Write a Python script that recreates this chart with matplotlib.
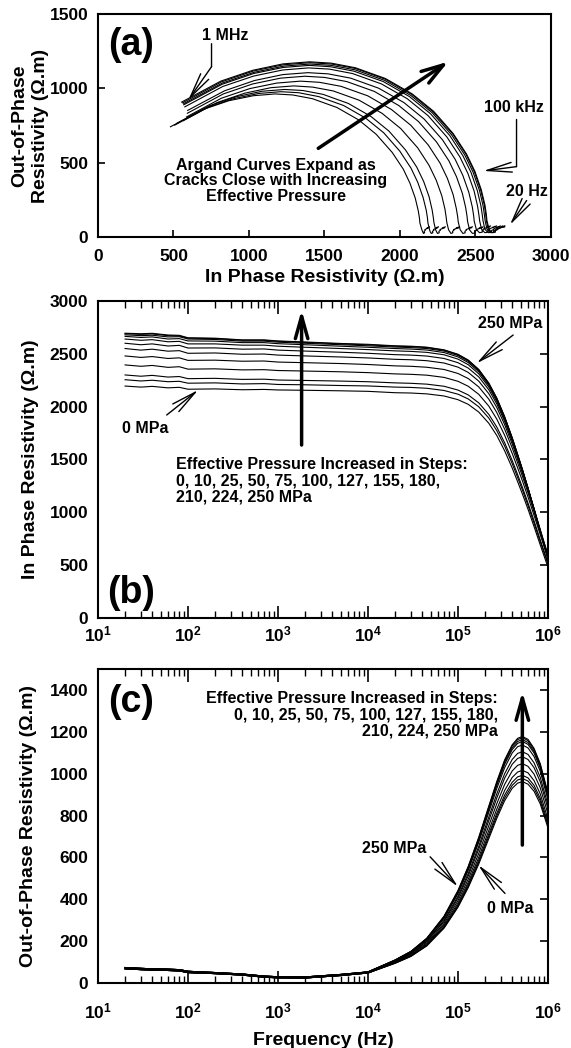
import matplotlib
matplotlib.use('Agg')
import matplotlib.pyplot as plt
from matplotlib.ticker import LogLocator, NullFormatter, FixedLocator

plt.rcParams['font.family'] = ['Liberation Sans', 'DejaVu Sans']
plt.rcParams['font.weight'] = 'bold'
plt.rcParams['axes.labelweight'] = 'bold'
plt.rcParams['mathtext.fontset'] = 'custom'
plt.rcParams['mathtext.rm'] = 'Liberation Sans:bold'
plt.rcParams['mathtext.bf'] = 'Liberation Sans:bold'

# frequencies (Hz) shared by every run
freq = [20, 30, 40, 60, 80, 100, 200, 400, 700, 1e3, 2e3, 5e3, 1e4,
        2e4, 3e4, 4.5e4, 7e4, 1e5, 1.3e5, 1.7e5, 2.2e5, 2.7e5, 3.3e5, 4e5, 4.6e5,
        5.2e5, 6e5, 7e5, 8.2e5, 1e6]

pressures = [0, 10, 25, 50, 75, 100, 127, 155, 180, 210, 224, 250]

# in phase resistivity (ohm.m), one list per effective pressure (MPa)
ip_000 = [2195, 2185, 2192, 2178, 2183, 2165, 2168, 2160, 2163, 2158, 2155, 2150, 2145,
          2132, 2129, 2121, 2101, 2066, 2022, 1949, 1843, 1727, 1582, 1420, 1290, 1173, 1029, 865, 692, 480]
ip_010 = [2255, 2243, 2250, 2236, 2240, 2222, 2225, 2215, 2218, 2210, 2207, 2200, 2196,
          2185, 2182, 2174, 2153, 2118, 2073, 1999, 1892, 1773, 1627, 1462, 1330, 1211, 1064, 898, 723, 508]
ip_025 = [2300, 2288, 2296, 2280, 2285, 2265, 2268, 2258, 2260, 2252, 2248, 2242, 2236,
          2225, 2221, 2213, 2193, 2157, 2111, 2036, 1927, 1807, 1658, 1491, 1357, 1236, 1087, 919, 740, 522]
ip_050 = [2395, 2382, 2390, 2372, 2378, 2355, 2358, 2348, 2350, 2342, 2337, 2330, 2322,
          2310, 2306, 2298, 2277, 2240, 2193, 2117, 2005, 1882, 1729, 1558, 1421, 1297, 1145, 972, 789, 565]
ip_075 = [2480, 2466, 2474, 2456, 2462, 2438, 2440, 2430, 2432, 2422, 2416, 2408, 2399,
          2386, 2382, 2373, 2352, 2314, 2266, 2187, 2071, 1944, 1787, 1610, 1468, 1341, 1184, 1006, 817, 586]
ip_100 = [2550, 2535, 2544, 2525, 2530, 2505, 2508, 2496, 2498, 2488, 2480, 2470, 2461,
          2448, 2444, 2435, 2413, 2374, 2324, 2242, 2123, 1992, 1830, 1648, 1501, 1370, 1208, 1024, 830, 592]
ip_127 = [2600, 2586, 2594, 2574, 2580, 2555, 2556, 2544, 2546, 2535, 2526, 2515, 2505,
          2492, 2488, 2479, 2456, 2416, 2365, 2282, 2160, 2026, 1860, 1674, 1524, 1390, 1224, 1036, 838, 594]
ip_155 = [2640, 2628, 2634, 2614, 2618, 2594, 2594, 2582, 2582, 2572, 2562, 2550, 2540,
          2528, 2523, 2514, 2491, 2450, 2397, 2311, 2186, 2048, 1878, 1686, 1532, 1394, 1223, 1030, 826, 575]
ip_180 = [2665, 2655, 2660, 2640, 2644, 2622, 2620, 2606, 2606, 2596, 2586, 2572, 2562,
          2550, 2545, 2536, 2512, 2471, 2417, 2330, 2203, 2063, 1890, 1695, 1539, 1399, 1226, 1030, 822, 568]
ip_210 = [2680, 2672, 2676, 2660, 2662, 2640, 2636, 2620, 2620, 2610, 2600, 2586, 2576,
          2564, 2559, 2550, 2526, 2484, 2430, 2342, 2214, 2073, 1899, 1703, 1545, 1404, 1230, 1032, 823, 567]
ip_224 = [2690, 2684, 2688, 2672, 2670, 2648, 2644, 2628, 2628, 2618, 2608, 2594, 2585,
          2572, 2568, 2559, 2534, 2492, 2438, 2350, 2220, 2079, 1903, 1705, 1547, 1404, 1228, 1029, 818, 560]
ip_250 = [2695, 2690, 2694, 2678, 2675, 2652, 2648, 2632, 2632, 2622, 2612, 2598, 2590,
          2576, 2572, 2563, 2538, 2496, 2441, 2352, 2223, 2080, 1903, 1705, 1545, 1402, 1225, 1025, 813, 554]

# out-of-phase resistivity: runs nearly overlap below 10 kHz
op_low_a = [68, 64, 62, 60, 58, 50, 45, 38, 28, 25, 24, 36, 48]
op_low_b = [74, 70, 68, 66, 64, 56, 50, 43, 33, 30, 29, 41, 53]
op_000 = op_low_a + [94, 127, 177, 262, 362, 456, 568, 690, 787, 871, 930, 955, 962, 950, 916, 856, 741]
op_010 = op_low_a + [95, 128, 180, 266, 367, 463, 577, 701, 799, 884, 944, 970, 977, 965, 930, 870, 752]
op_025 = op_low_a + [96, 130, 182, 270, 373, 470, 586, 712, 811, 898, 959, 985, 992, 980, 944, 883, 764]
op_050 = op_low_a + [98, 133, 187, 277, 382, 481, 600, 729, 831, 920, 982, 1008, 1016, 1004, 967, 904, 782]
op_075 = op_low_a + [100, 137, 192, 285, 394, 496, 619, 752, 857, 949, 1013, 1040, 1048, 1035, 998, 933, 807]
op_100 = op_low_a + [103, 140, 198, 294, 406, 512, 639, 776, 884, 979, 1045, 1073, 1081, 1068, 1029, 962, 832]
op_127 = op_low_b + [105, 143, 202, 300, 415, 523, 653, 793, 904, 1000, 1068, 1097, 1105, 1092, 1052, 983, 851]
op_155 = op_low_b + [107, 147, 207, 309, 427, 538, 672, 816, 930, 1029, 1099, 1129, 1137, 1123, 1082, 1012, 875]
op_180 = op_low_b + [109, 149, 210, 313, 433, 546, 682, 828, 944, 1045, 1115, 1145, 1154, 1140, 1099, 1027, 889]
op_210 = op_low_b + [109, 150, 212, 315, 436, 550, 687, 835, 951, 1053, 1124, 1154, 1163, 1149, 1107, 1035, 896]
op_224 = op_low_b + [110, 151, 213, 318, 440, 555, 692, 841, 958, 1061, 1133, 1163, 1172, 1158, 1116, 1043, 902]
op_250 = op_low_b + [110, 151, 214, 319, 442, 557, 696, 845, 963, 1066, 1138, 1169, 1178, 1164, 1121, 1048, 907]

in_phase = [ip_000, ip_010, ip_025, ip_050, ip_075, ip_100, ip_127, ip_155, ip_180, ip_210, ip_224, ip_250]
out_phase = [op_000, op_010, op_025, op_050, op_075, op_100, op_127, op_155, op_180, op_210, op_224, op_250]

steps_txt = 'Effective Pressure Increased in Steps:\n0, 10, 25, 50, 75, 100, 127, 155, 180,\n210, 224, 250 MPa'
unit = '(\u03A9.m)'
fs_note = 11.5


def arrow(ax, tip, tail, lw=1.0, hl=1.8, hw=0.35):
    ax.annotate('', xy=tip, xytext=tail,
                arrowprops=dict(arrowstyle=f'->,head_length={hl},head_width={hw}',
                                lw=lw, color='k', shrinkA=0, shrinkB=0), annotation_clip=False)


def leader(ax, p1, p2, lw=1.0):
    ax.annotate('', xy=p2, xytext=p1,
                arrowprops=dict(arrowstyle='-', lw=lw, color='k', shrinkA=0, shrinkB=0),
                annotation_clip=False)


def style(ax):
    for s in ax.spines.values():
        s.set_linewidth(1.5)
    ax.tick_params(labelsize=12.5, width=1.2)


fig = plt.figure(figsize=(5.71, 10.48), dpi=100)
ax_a = fig.add_axes([0.1716, 0.7739, 0.7933, 0.2128])
ax_b = fig.add_axes([0.1716, 0.4103, 0.7881, 0.3025])
ax_c = fig.add_axes([0.1716, 0.0620, 0.7881, 0.2996])

# ---- (a) Argand diagram
for x, y in zip(in_phase, out_phase):
    ax_a.plot(x, y, color='k', lw=0.8)
ax_a.set_xlim(0, 3000)
ax_a.set_ylim(0, 1500)
ax_a.set_xticks([0, 500, 1000, 1500, 2000, 2500, 3000])
ax_a.set_yticks([0, 500, 1000, 1500])
style(ax_a)
ax_a.tick_params(direction='in', length=5)
ax_a.tick_params(axis='x', pad=9)
ax_a.tick_params(axis='y', pad=7)
ax_a.set_xlabel('In Phase Resistivity ' + unit, fontsize=14, labelpad=3)
ax_a.set_ylabel('Out-of-Phase\nResistivity ' + unit, fontsize=14, linespacing=1.3)
ax_a.yaxis.set_label_coords(-0.108, 0.5)
ax_a.text(0.073, 0.86, '(a)', transform=ax_a.transAxes, fontsize=27, ha='center', va='center')

ax_a.text(841, 1358, '1 MHz', fontsize=fs_note, ha='center', va='center')
leader(ax_a, (752, 1300), (752, 1145))
arrow(ax_a, (598, 921), (752, 1145))
ax_a.text(1179, 377, 'Argand Curves Expand as\nCracks Close with Increasing\nEffective Pressure',
          fontsize=fs_note, ha='center', va='center', linespacing=1.05)
arrow(ax_a, (2320, 1179), (1459, 596), lw=2.5, hl=1.6, hw=0.5)
ax_a.text(2755, 869, '100 kHz', fontsize=fs_note, ha='center', va='center')
leader(ax_a, (2772, 790), (2772, 473))
arrow(ax_a, (2552, 444), (2772, 473))
ax_a.text(2839, 305, '20 Hz', fontsize=fs_note, ha='center', va='center')
arrow(ax_a, (2728, 81), (2839, 245))

# ---- (b) in phase vs frequency
for y in in_phase:
    ax_b.plot(freq, y, color='k', lw=0.8)
ax_b.set_xscale('log')
ax_b.set_xlim(10, 1e6)
ax_b.set_ylim(0, 3000)
ax_b.set_yticks(range(0, 3001, 500))
dec = [10, 100, 1e3, 1e4, 1e5, 1e6]
ax_b.set_xticks(dec)
ax_b.set_xticklabels([r'$\mathbf{10^{%d}}$' % k for k in range(1, 7)])
ax_b.xaxis.set_minor_locator(LogLocator(base=10, subs=range(2, 10), numticks=20))
ax_b.xaxis.set_minor_formatter(NullFormatter())
style(ax_b)
ax_b.tick_params(axis='x', which='major', direction='in', length=9, top=True, pad=5)
ax_b.tick_params(axis='x', which='minor', direction='in', length=5, width=1.0, top=True)
ax_b.tick_params(axis='y', direction='in', length=6, right=True, left=False, pad=7)
ax_b.set_ylabel('In Phase Resistivity ' + unit, fontsize=14)
ax_b.yaxis.set_label_coords(-0.13, 0.5)
ax_b.text(0.073, 0.08, '(b)', transform=ax_b.transAxes, fontsize=27, ha='center', va='center')

ax_b.text(3.78e5, 2789, '250 MPa', fontsize=fs_note, ha='center', va='center')
arrow(ax_b, (1.61e5, 2410), (4.1e5, 2678))
ax_b.text(33.3, 1795, '0 MPa', fontsize=fs_note, ha='center', va='center')
arrow(ax_b, (130, 2158), (58, 1921))
arrow(ax_b, (1.83e3, 2915), (1.83e3, 1637), lw=2.5, hl=1.6, hw=0.45)
ax_b.text(73.6, 1301, steps_txt, fontsize=fs_note, ha='left', va='center', linespacing=1.1)

# ---- (c) out-of-phase vs frequency
for y in out_phase:
    ax_c.plot(freq, y, color='k', lw=0.8)
ax_c.set_xscale('log')
ax_c.set_xlim(10, 1e6)
ax_c.set_ylim(0, 1500)
ax_c.yaxis.set_major_locator(FixedLocator(range(0, 1401, 200)))
ax_c.set_xticks(dec)
ax_c.set_xticklabels([r'$\mathbf{10^{%d}}$' % k for k in range(1, 7)])
ax_c.xaxis.set_minor_locator(LogLocator(base=10, subs=range(2, 10), numticks=20))
ax_c.xaxis.set_minor_formatter(NullFormatter())
style(ax_c)
ax_c.tick_params(axis='x', which='major', direction='in', length=9, pad=13)
ax_c.tick_params(axis='x', which='minor', direction='in', length=5, width=1.0)
ax_c.tick_params(axis='x', which='both', top=True)
ax_c.tick_params(axis='y', direction='in', length=6, right=True, left=False, pad=7)
ax_c.set_xlabel('Frequency (Hz)', fontsize=14, labelpad=8)
ax_c.set_ylabel('Out-of-Phase Resistivity ' + unit, fontsize=14)
ax_c.yaxis.set_label_coords(-0.135, 0.5)
ax_c.text(0.073, 0.895, '(c)', transform=ax_c.transAxes, fontsize=27, ha='center', va='center')

ax_c.text(2.78e5, 1395, steps_txt, fontsize=fs_note, ha='right', va='top', linespacing=1.1,
          multialignment='right')
ax_c.text(1.95e4, 643, '250 MPa', fontsize=fs_note, ha='center', va='center')
arrow(ax_c, (1.0e5, 460), (4.9e4, 603))
ax_c.text(3.85e5, 357, '0 MPa', fontsize=fs_note, ha='center', va='center')
arrow(ax_c, (1.68e5, 564), (3.33e5, 428))
arrow(ax_c, (5.19e5, 1392), (5.19e5, 659), lw=2.5, hl=1.6, hw=0.45)

fig.savefig('out.png', dpi=100)
